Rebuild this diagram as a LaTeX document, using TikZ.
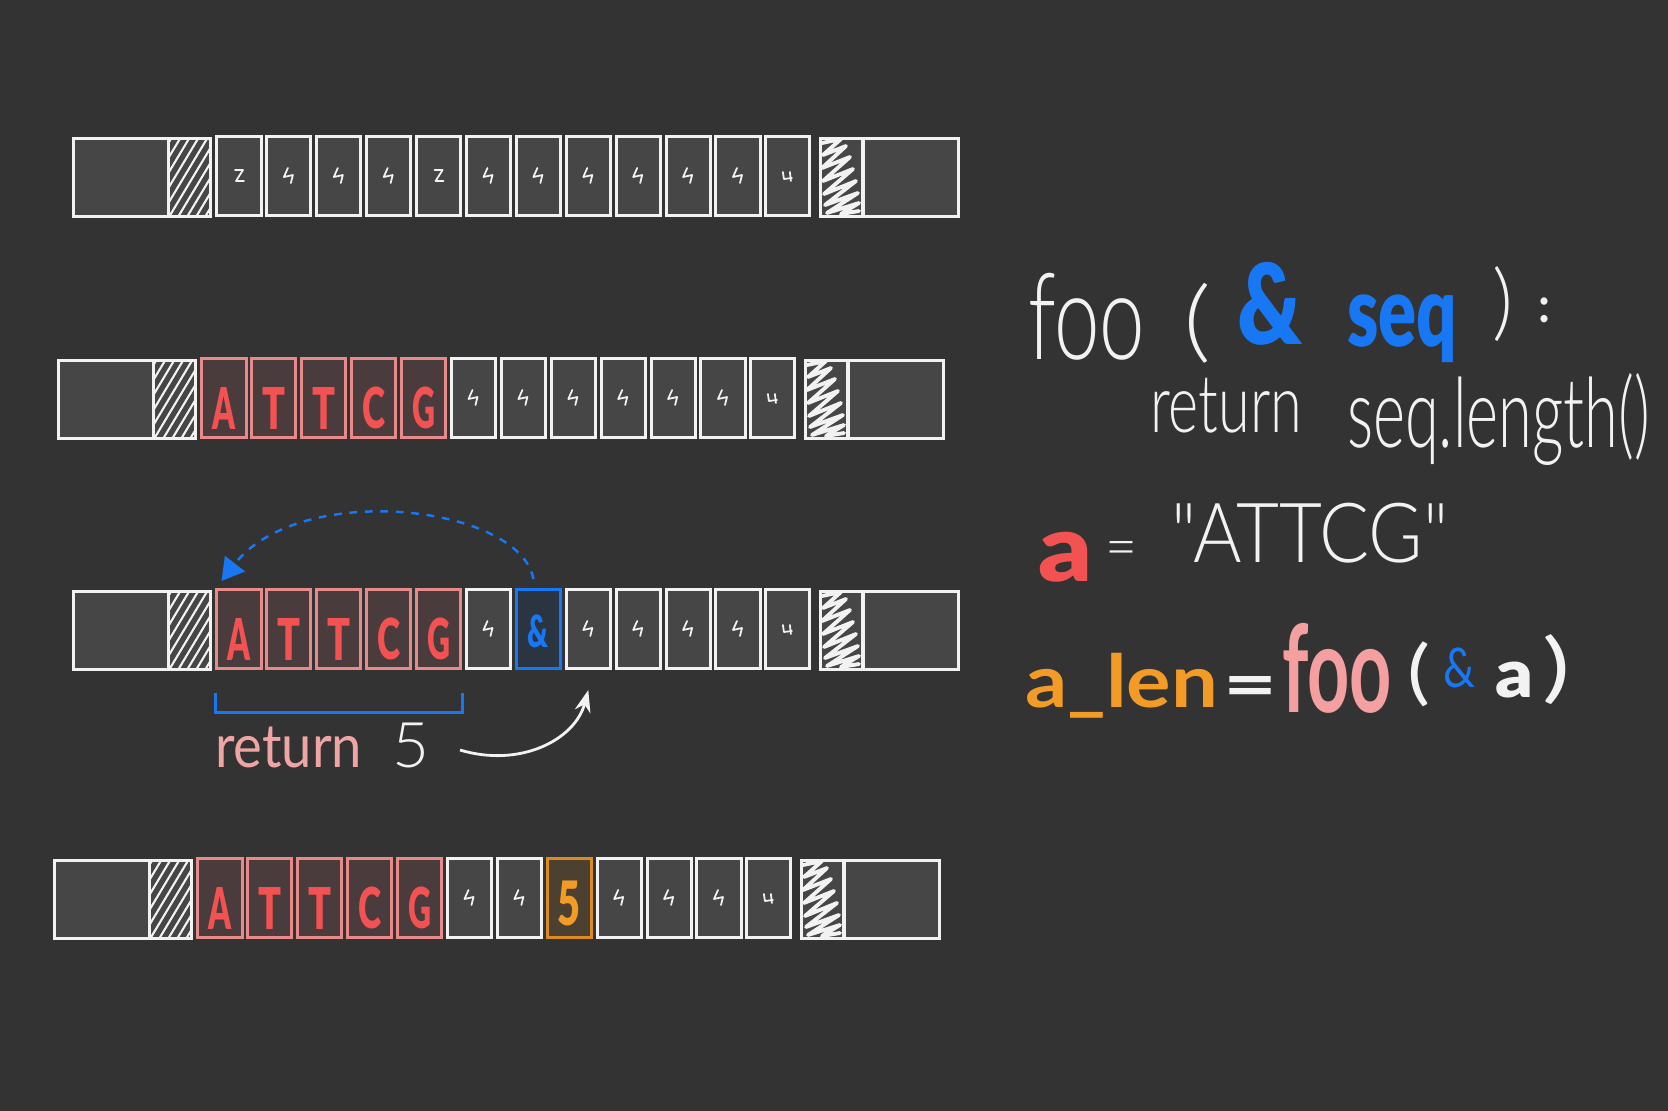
\documentclass[tikz,border=0pt]{standalone}
\usepackage{fontspec}
\setmainfont{Lato}
\newfontfamily\plainlato{Lato Light}
\newfontfamily\heavylato{Lato Black}
\usepackage{graphicx}
\usetikzlibrary{arrows.meta}
\definecolor{bgc}{HTML}{333333}
\definecolor{wht}{HTML}{F2F2F2}
\definecolor{eW}{HTML}{F2F2F2}
\definecolor{fW}{HTML}{464646}
\definecolor{eR}{HTML}{E88A8A}
\definecolor{fR}{HTML}{4A3B3D}
\definecolor{eB}{HTML}{1877F2}
\definecolor{fB}{HTML}{2B3542}
\definecolor{eO}{HTML}{DB8B1F}
\definecolor{fO}{HTML}{4C4131}
\definecolor{redL}{HTML}{F25252}
\definecolor{blu}{HTML}{1877F2}
\definecolor{orng}{HTML}{F29B26}
\definecolor{pinkF}{HTML}{F5A0A0}
\definecolor{pinkR}{HTML}{F0A5A5}
\newcommand\fitt[3]{\resizebox*{#1mm}{#2mm}{#3}}
\tikzset{
 boxbase/.style={draw=wht, fill=fW, line width=0.85pt, inner sep=0pt, minimum height=0.78cm, rectangle},
 bigbox/.style={boxbase, minimum width=0.95cm},
 hatchbox/.style={boxbase, minimum width=0.42cm},
 cell/.style={boxbase, minimum width=0.44cm, minimum height=0.79cm},
 hatchline/.style={wht, line width=0.6pt},
 scrib/.style={wht, line width=1.1pt, line join=round, line cap=round},
 sqline/.style={wht, line width=0.5pt, line cap=round, line join=round},
 txt/.style={inner sep=0pt, outer sep=0pt},
 thin/.style={txt, text=wht, font=\plainlato},
 heavy/.style={txt, font=\heavylato},
 dna/.style={heavy, text=redL},
 bluedash/.style={blu, line width=0.7pt, dash pattern=on 2.2pt off 2.2pt, -{Triangle[length=0.22cm,width=0.25cm]}},
 bracket/.style={blu, line width=0.85pt},
 whtarrow/.style={wht, line width=0.8pt, -{Stealth[length=0.22cm,width=0.16cm]}},
 pics/sqf/.style={code={\draw[sqline] (-1,-8) -- (-5,1) -- (4,-1) -- (2,7);}},
 pics/sqz/.style={code={\draw[sqline] (-4,-6) -- (4,-6) -- (-3,5) -- (5,5);}},
 pics/squ/.style={code={\draw[sqline] (-5,-4) -- (-4,3) -- (4,2); \draw[sqline] (2,-4) -- (3,5);}}
}
\newcommand\memrow[4]{%
  \node[bigbox,anchor=north west] (#1bl) at (#2,#3) {};
  \node[hatchbox,anchor=north west] (#1hl) at (#2+95,#3) {};
  \begin{scope}
    \clip (#2+95,#3) rectangle (#2+137,#3+78);
    \foreach \k in {-52,-43,...,44} \draw[hatchline] (#2+95+\k,#3+80) -- ++(60,-100);
  \end{scope}
  \node[hatchbox,anchor=north west] (#1hr) at (#2+747,#3) {};
  \begin{scope}[shift={(#2+747,#3)}]
    \draw[scrib] (3,6) -- (22,2) -- (4,18) -- (27,9) -- (3,31) -- (31,20) -- (4,44) -- (34,32) -- (5,57) -- (37,44) -- (6,68) -- (39,56) -- (8,76) -- (40,66) -- (22,77) -- (40,74);
  \end{scope}
  \node[bigbox,anchor=north west] (#1br) at (#2+790,#3) {};
  \foreach \s [count=\i from 0] in {#4} \node[cell, draw=e\s, fill=f\s] (#1c\i) at (#2+167+49.9*\i,#3+39) {};
}
\begin{document}
\begin{tikzpicture}[x=0.01cm,y=-0.01cm]
\useasboundingbox (0,0) rectangle (1668,1111);
\fill[bgc] (0,0) rectangle (1668,1111);
% memory rows
\memrow{r1}{72}{137}{W,W,W,W,W,W,W,W,W,W,W,W}
\memrow{r2}{57}{359}{R,R,R,R,R,W,W,W,W,W,W,W}
\memrow{r3}{72}{590}{R,R,R,R,R,W,B,W,W,W,W,W}
\memrow{r4}{53}{859}{R,R,R,R,R,W,W,O,W,W,W,W}
% garbage squiggles
\foreach \p [count=\i from 0] in {sqz,sqf,sqf,sqf,sqz,sqf,sqf,sqf,sqf,sqf,sqf,squ} \pic at (r1c\i) {\p};
\foreach \c in {5,...,10} \pic at (r2c\c) {sqf};
\pic at (r2c11) {squ};
\foreach \c in {5,7,8,9,10} \pic at (r3c\c) {sqf};
\pic at (r3c11) {squ};
\foreach \c in {5,6,8,9,10} \pic at (r4c\c) {sqf};
\pic at (r4c11) {squ};
% DNA letters
\foreach \rw in {r2,r3,r4}
  \foreach \L [count=\i from 0] in {A,T,T,C,G}
    \node[dna] (\rw t\i) at ([yshift=-0.1cm]\rw c\i.center) {\fitt{2.3}{4.2}{\L}};
\node[heavy, text=blu] (amp) at ([yshift=-0.02cm]r3c6.center) {\fitt{2.1}{3.3}{\&}};
\node[heavy, text=orng] (five) at ([yshift=-0.05cm]r4c7.center) {\fitt{2.3}{4.5}{5}};
% pointer arrow
\draw[bluedash] ([xshift=-0.05cm,yshift=0.09cm]r3c6.north) .. controls (520,505) and (300,480) .. ([xshift=0.06cm,yshift=0.07cm]r3c0.north west);
% bracket
\draw[bracket] ([yshift=-0.23cm]r3c0.south west) -- ([yshift=-0.42cm]r3c0.south west) -- ([yshift=-0.42cm]r3c4.south east) -- ([yshift=-0.23cm]r3c4.south east);
% return 5
\node[txt, anchor=north west, text=pinkR] (ret) at (215,727) {\fitt{14.7}{4.1}{return}};
\node[thin, anchor=north west] (ret5) at (393,723) {\fitt{3.7}{4.5}{5}};
\draw[whtarrow] ([xshift=0.3cm,yshift=-0.045cm]ret5.east) .. controls (520,768) and (575,740) .. ([yshift=-0.2cm]r3c7.south);
% code text
\node[thin,anchor=north west] (tfoo) at (1028,273) {\fitt{11.7}{8.7}{foo}};
\node[thin,anchor=north west] (tlp) at (1183,283) {\fitt{2.8}{8.0}{(}};
\node[heavy,anchor=north west,text=blu] (tamp) at (1237,262) {\fitt{6.5}{8.3}{\&}};
\node[heavy,anchor=north west,text=blu] (tseq) at (1347,295) {\fitt{11.0}{6.8}{seq}};
\node[thin,anchor=north west] (trp) at (1492,267) {\fitt{2.1}{7.5}{)}};
\node[txt,anchor=north west,text=wht,font=\bfseries] (tcol) at (1538,298) {\fitt{1.2}{2.5}{:}};
\node[thin,anchor=north west] (tret) at (1150,378) {\fitt{15.2}{5.5}{return}};
\node[thin,anchor=north west] (tlen) at (1347,373) {\fitt{30.3}{9.2}{seq.length()}};
\node[heavy,anchor=north west,text=redL] (ta) at (1038,532) {\fitt{5.4}{5.0}{a}};
\node[thin,anchor=north west] (teq) at (1105,541) {\fitt{3.2}{2.6}{=}};
\node[thin,anchor=north west] (tstr) at (1172,503) {\fitt{27.6}{6.0}{"ATTCG"}};
\node[txt,anchor=north west,text=orng,font=\bfseries] (talen) at (1025,653) {\fitt{19.3}{6.5}{a\_len}};
\node[txt,anchor=north west,text=wht,font=\bfseries] (teq2) at (1223,676) {\fitt{5.4}{3.2}{=}};
\node[txt,anchor=north west,text=pinkF,font=\bfseries] (tfoo2) at (1282,623) {\fitt{11.0}{9.0}{foo}};
\node[txt,anchor=north west,text=wht] (tlp2) at (1407,642) {\fitt{2.3}{6.5}{(}};
\node[txt,anchor=north west,text=blu] (tamp2) at (1443,648) {\fitt{3.2}{4.0}{\&}};
\node[heavy,anchor=north west,text=wht] (ta2) at (1495,662) {\fitt{3.8}{3.6}{a}};
\node[txt,anchor=north west,text=wht] (trp2) at (1542,635) {\fitt{2.8}{7.0}{)}};
\end{tikzpicture}
\end{document}
